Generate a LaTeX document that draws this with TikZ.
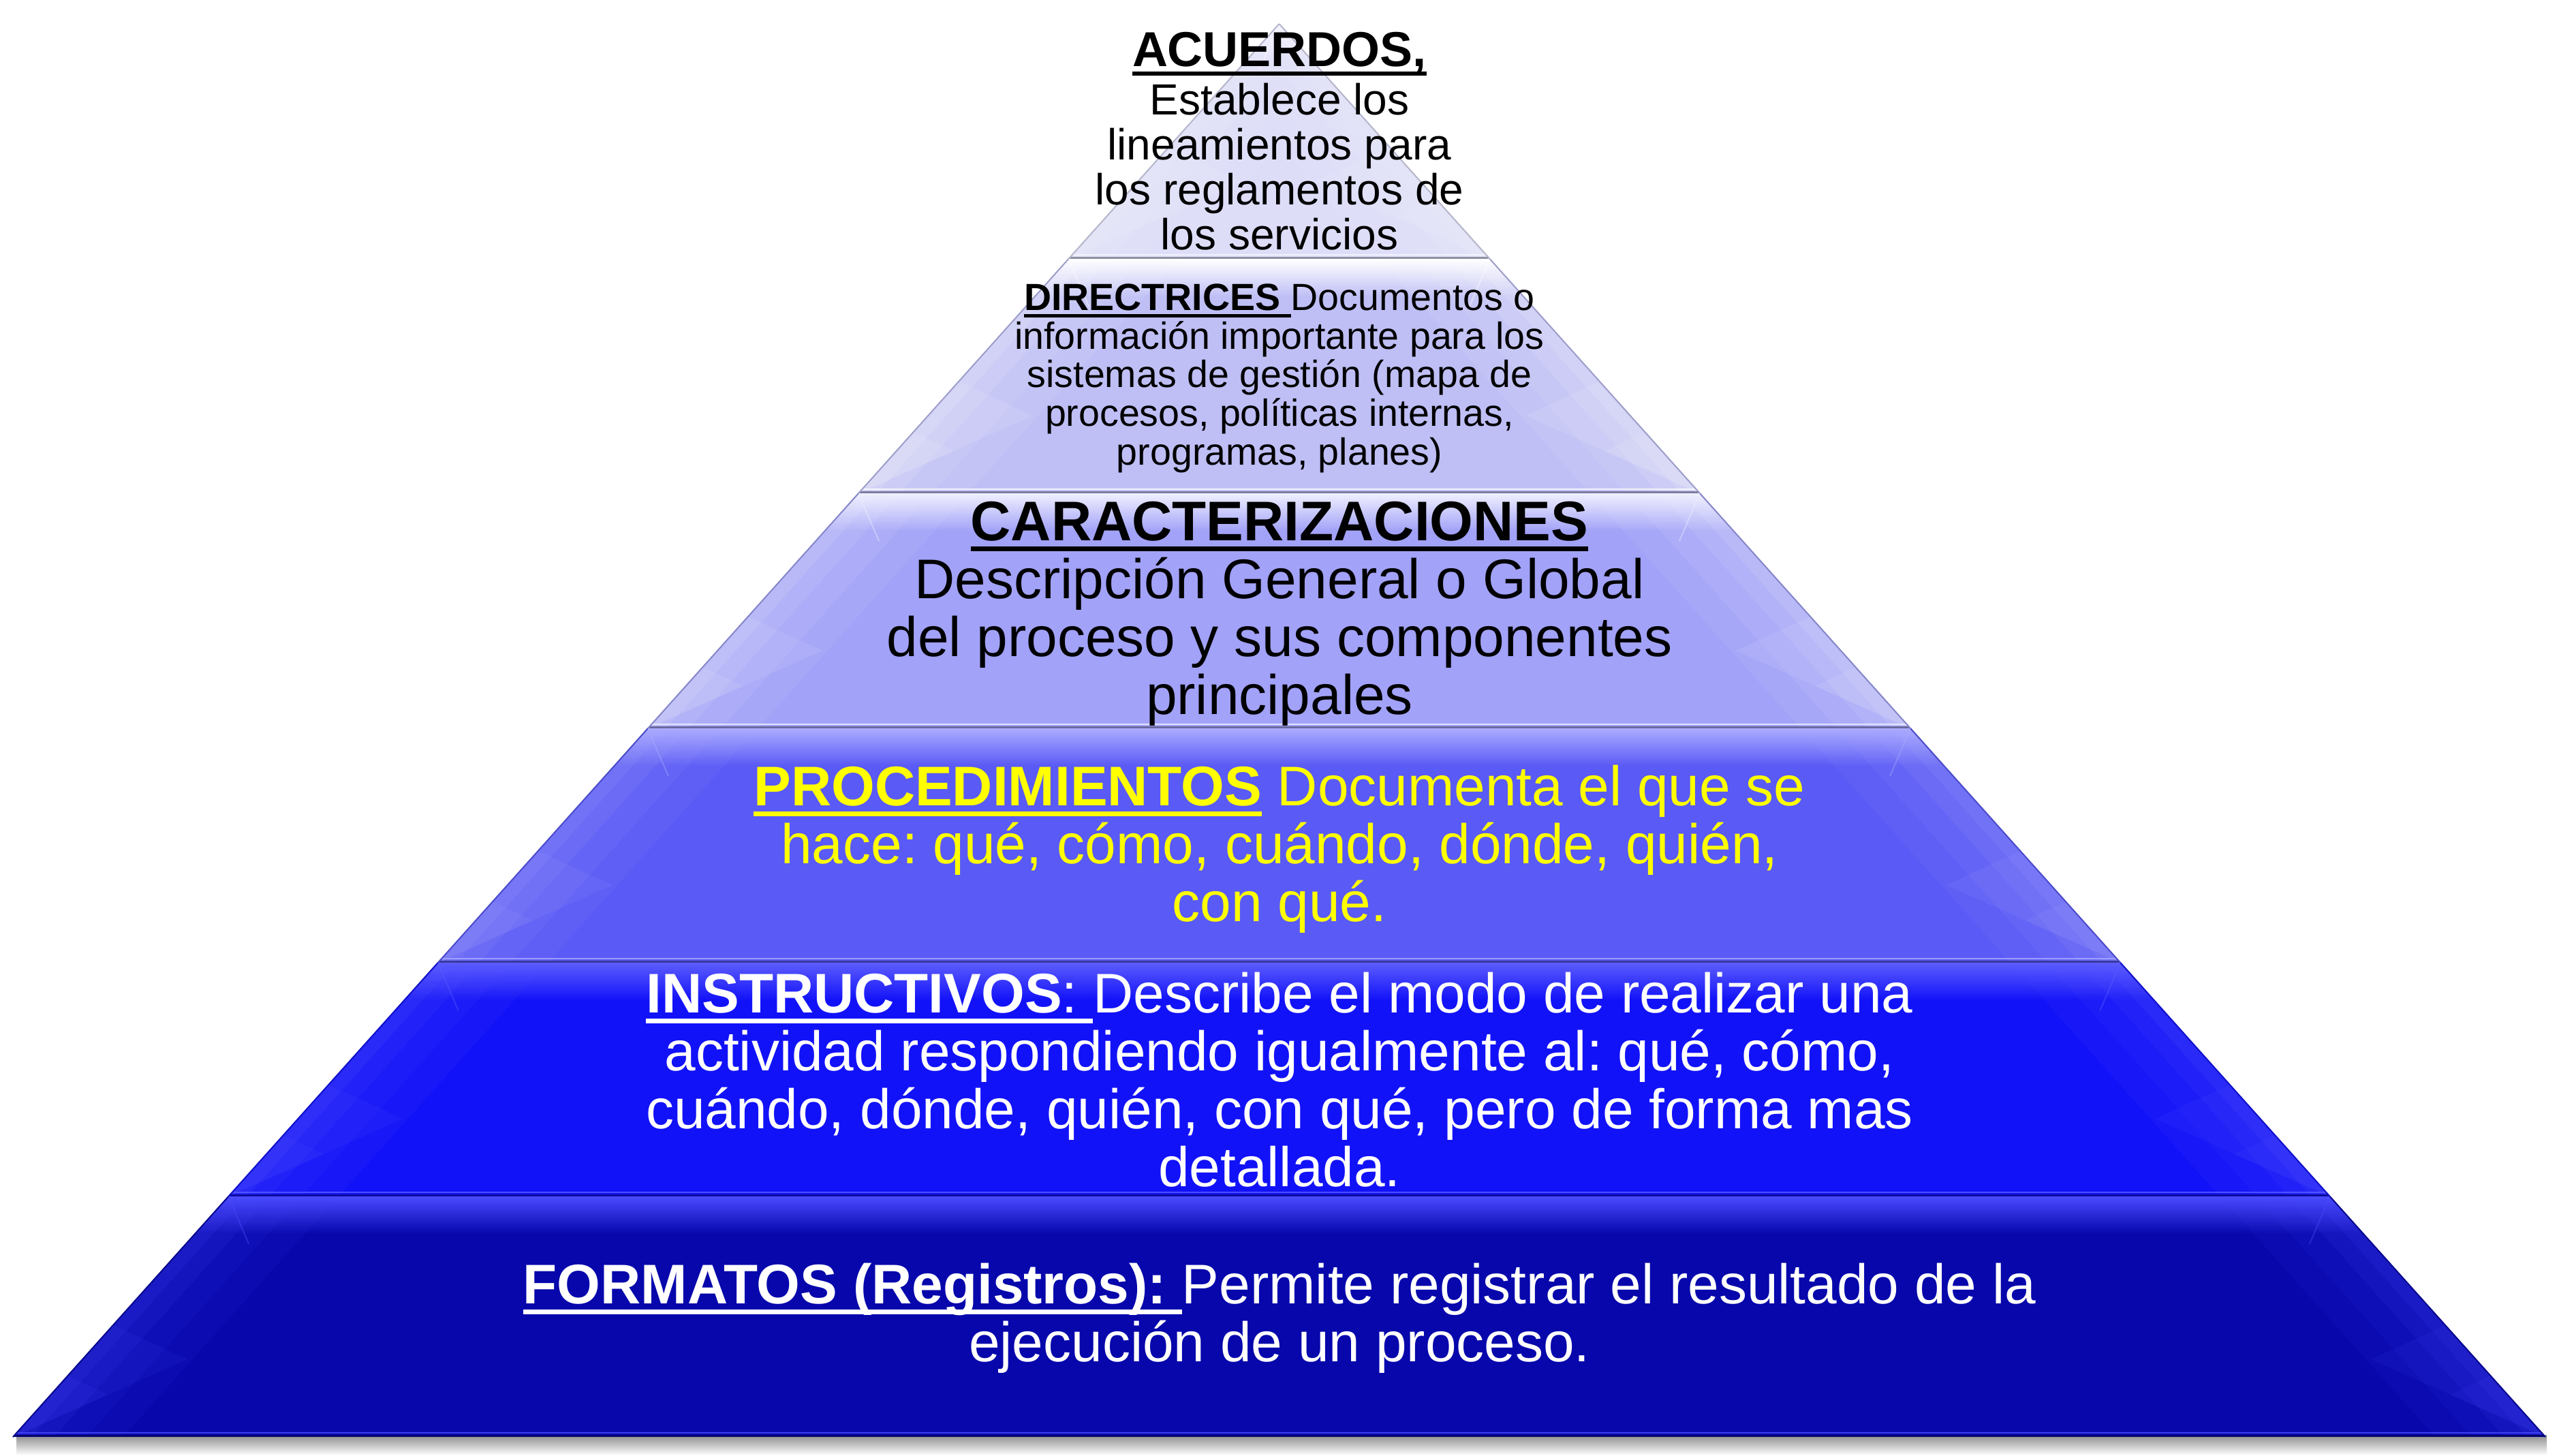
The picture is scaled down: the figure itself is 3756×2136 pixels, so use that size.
\documentclass[tikz,border=0pt]{standalone}
\usepackage{fontspec}
\setmainfont{Liberation Sans}
\usetikzlibrary{calc}
\definecolor{bA}{HTML}{DDDDF8}\definecolor{lA}{HTML}{F6F6FF}
\definecolor{bB}{HTML}{BFBFF6}\definecolor{lB}{HTML}{FFFFFF}
\definecolor{bC}{HTML}{A2A2F8}\definecolor{lC}{HTML}{F0F0FF}
\definecolor{bD}{HTML}{5A5AF6}\definecolor{lD}{HTML}{ABABFF}
\definecolor{bE}{HTML}{1212F8}\definecolor{lE}{HTML}{5C5CFF}
\definecolor{bF}{HTML}{0707AC}\definecolor{lF}{HTML}{4A4AFF}
\definecolor{ylw}{HTML}{FFFF00}
\newsavebox\ulbox
\newcommand{\ulx}[1]{\sbox\ulbox{#1}\rlap{\rule[-0.2em]{\wd\ulbox}{0.09em}}\usebox\ulbox}
\frenchspacing
\begin{document}
\frenchspacing
\begin{tikzpicture}[x=0.2pt,y=-0.2pt,
  ln/.style={anchor=base, inner sep=0pt, outer sep=0pt},
  fAc/.style={font=\fontsize{14.4}{16}\selectfont\frenchspacing},
  fA/.style={font=\fontsize{12.8}{14}\selectfont\frenchspacing},
  fB/.style={font=\fontsize{11.1}{13}\selectfont\frenchspacing},
  fC/.style={font=\fontsize{16.4}{18}\selectfont\frenchspacing}]
\useasboundingbox[fill=white] (0,0) rectangle (3756,2136);
% drop shadow under the base
\shade[top color=black!45, bottom color=white] (24,2106) rectangle (3738,2136);
% bands
\foreach \yt/\yb/\cb/\cl/\n in {35/380/bA/lA/1,380/724/bB/lB/2,724/1069/bC/lC/3,1069/1413/bD/lD/4,1413/1756/bE/lE/5,1756/2109/bF/lF/6}{
  \pgfmathsetmacro{\wt}{(\yt-35)*0.8961}
  \pgfmathsetmacro{\wb}{(\yb-35)*0.8961}
  \coordinate (TL\n) at ({1877.5-\wt},\yt);
  \coordinate (TR\n) at ({1877.5+\wt},\yt);
  \coordinate (BL\n) at ({1877.5-\wb},\yb);
  \coordinate (BR\n) at ({1877.5+\wb},\yb);
  \begin{scope}
    \clip (TL\n)--(TR\n)--(BR\n)--(BL\n)--cycle;
    \fill[fill=\cb] (0,\yt) rectangle (3756,\yb);
    \shade[top color=\cl, bottom color=\cb] (0,\yt) rectangle (3756,\yt+55);
    \foreach \w/\o in {240/0.07,160/0.08,90/0.1,40/0.12}{
      \draw[draw=\cl, line width=\w*0.2pt, opacity=\o]
        ($(TL\n)!-0.2!(BL\n)$)--($(BL\n)!-0.2!(TL\n)$)
        ($(TR\n)!-0.2!(BR\n)$)--($(BR\n)!-0.2!(TR\n)$);
    }
    \fill[fill=\cl, opacity=0.1] (BL\n) -- ++(147,-164) -- ++(109,50) -- cycle;
    \fill[fill=\cl, opacity=0.1] (BL\n) -- ++(80,-90) -- ++(60,28) -- cycle;
    \fill[fill=\cl, opacity=0.1] (BR\n) -- ++(-147,-164) -- ++(-109,50) -- cycle;
    \fill[fill=\cl, opacity=0.1] (BR\n) -- ++(-80,-90) -- ++(-60,28) -- cycle;
    \draw[draw=\cl, opacity=0.4, line width=0.4pt] (TL\n) -- ++(30,70);
    \draw[draw=\cl, opacity=0.4, line width=0.4pt] (TR\n) -- ++(-30,70);
    \draw[draw=\cl, line width=0.5pt, opacity=0.8] (0,\yb-6) -- (3756,\yb-6);
    \draw[draw=\cb!65!black, line width=0.6pt] (0,\yb-1.5) -- (3756,\yb-1.5);
  \end{scope}
  \draw[draw=\cb!82!black, line width=0.4pt, line join=round] (TL\n)--(BL\n) (TR\n)--(BR\n);
}
% block 1
\node[ln,fAc] (a1) at (1878,97) {\bfseries\ulx{ACUERDOS,}};
\node[ln,fA] (a2) at (1878,168) {Establece los};
\node[ln,fA] (a3) at (1878,234) {lineamientos para};
\node[ln,fA] (a4) at (1878,300) {los reglamentos de};
\node[ln,fA] (a5) at (1878,366) {los servicios};
% block 2
\node[ln,fB] (d1) at (1878,455) {\ulx{\bfseries DIRECTRICES }Documentos o};
\node[ln,fB] (d2) at (1878,512) {información importante para los};
\node[ln,fB] (d3) at (1878,568) {sistemas de gestión (mapa de};
\node[ln,fB] (d4) at (1878,625) {procesos, políticas internas,};
\node[ln,fB] (d5) at (1878,682) {programas, planes)};
% block 3
\node[ln,fC] (c1) at (1878,793) {\bfseries\ulx{CARACTERIZACIONES}};
\node[ln,fC] (c2) at (1878,878) {Descripción General o Global};
\node[ln,fC] (c3) at (1878,963) {del proceso y sus componentes};
\node[ln,fC] (c4) at (1878,1048) {principales};
% block 4
\node[ln,fC,text=ylw] (p1) at (1878,1182) {\ulx{\bfseries PROCEDIMIENTOS} Documenta el que se};
\node[ln,fC,text=ylw] (p2) at (1878,1267) {hace: qué, cómo, cuándo, dónde, quién,};
\node[ln,fC,text=ylw] (p3) at (1878,1352) {con qué.};
% block 5
\node[ln,fC,text=white] (i1) at (1878,1486) {\ulx{\textbf{INSTRUCTIVOS}: }Describe el modo de realizar una};
\node[ln,fC,text=white] (i2) at (1878,1571) {actividad respondiendo igualmente al: qué, cómo,};
\node[ln,fC,text=white] (i3) at (1878,1656) {cuándo, dónde, quién, con qué, pero de forma mas};
\node[ln,fC,text=white] (i4) at (1878,1741) {detallada.};
% block 6
\node[ln,fC,text=white] (f1) at (1878,1913) {\ulx{\bfseries FORMATOS (Registros): }Permite registrar el resultado de la};
\node[ln,fC,text=white] (f2) at (1878,1998) {ejecución de un proceso.};
\end{tikzpicture}
\end{document}
